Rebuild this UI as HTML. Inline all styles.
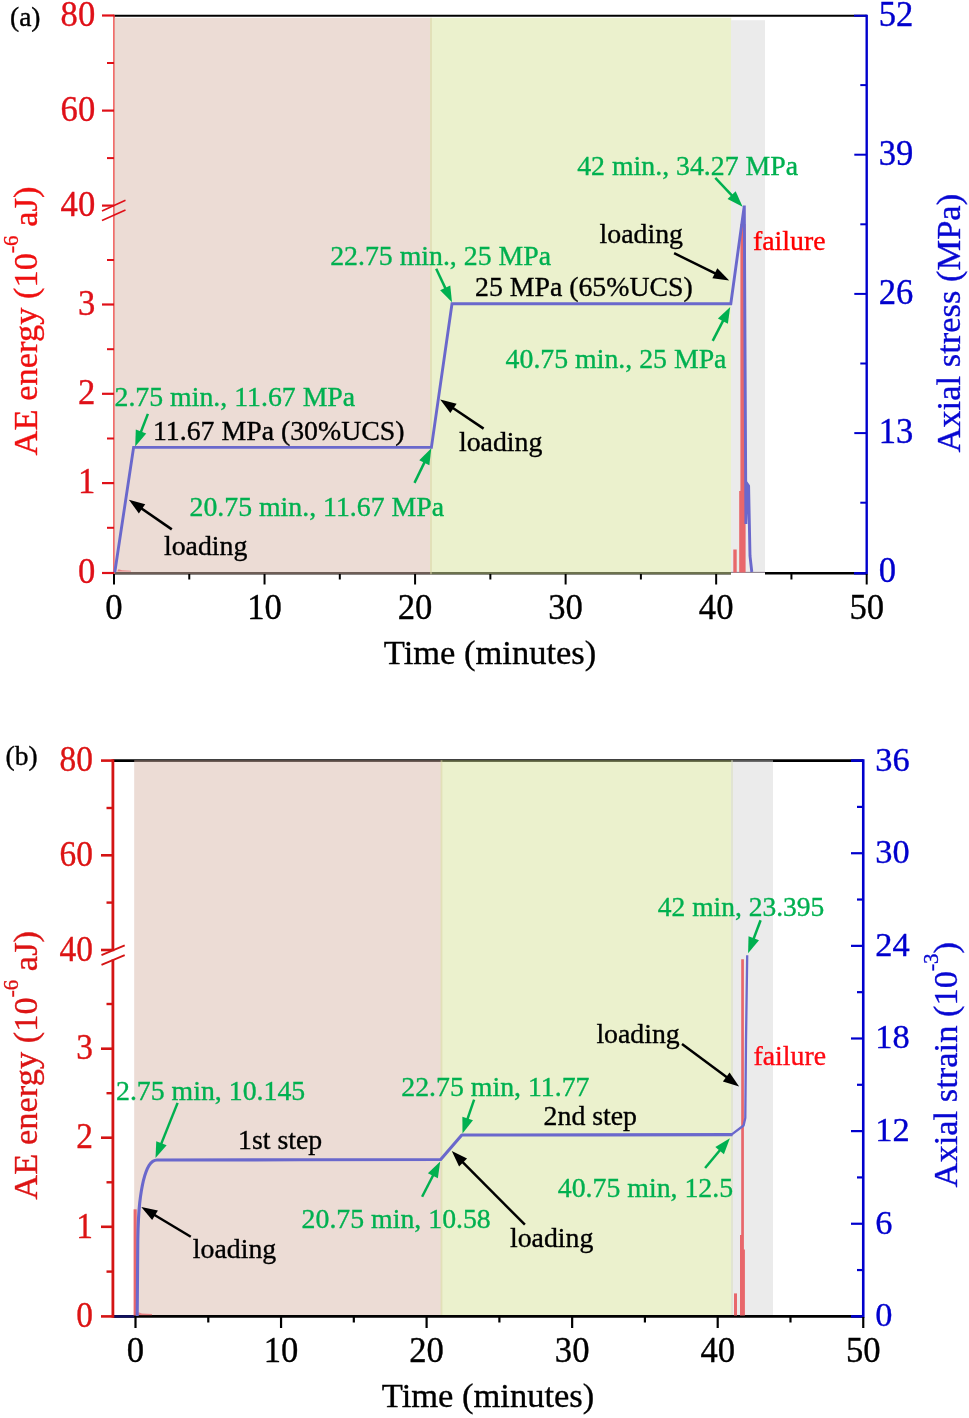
<!DOCTYPE html>
<html lang="en"><head><meta charset="utf-8"><title>AE energy and axial stress/strain versus time</title>
<style>html,body{margin:0;padding:0;background:#fff}svg{display:block}text{font-family:"Liberation Serif","Times New Roman",serif}</style>
</head><body>
<svg width="969" height="1418" viewBox="0 0 969 1418">
<rect x="0.00" y="0.00" width="969.00" height="1418.00" fill="#fff"/>
<g id="panel-a">
<line x1="114.00" y1="15.70" x2="866.70" y2="15.70" stroke="#000" stroke-width="2.0" />
<line x1="114.00" y1="573.30" x2="866.70" y2="573.30" stroke="#000" stroke-width="2.5" />
<line x1="114.00" y1="14.80" x2="114.00" y2="574.50" stroke="#f23a3a" stroke-width="1.5" />
<rect x="114.00" y="17.80" width="318.00" height="556.50" fill="rgba(217,185,171,0.5)"/>
<rect x="430.00" y="17.80" width="301.20" height="556.50" fill="rgba(215,227,155,0.5)"/>
<rect x="731.00" y="20.20" width="34.00" height="552.00" fill="#ebebeb"/>
<rect x="731.00" y="572.90" width="34.00" height="2.20" fill="#fff"/>
<line x1="731.00" y1="572.30" x2="765.00" y2="572.30" stroke="#a89aa8" stroke-width="1.0" />
<line x1="102.00" y1="15.50" x2="114.00" y2="15.50" stroke="#df1018" stroke-width="2.2" />
<text transform="translate(95.20,25.60) scale(1,1.04)" font-size="34.6" fill="#df1018" stroke="#df1018" stroke-width="0.35" text-anchor="end" >80</text>
<line x1="102.00" y1="110.60" x2="114.00" y2="110.60" stroke="#df1018" stroke-width="2.2" />
<text transform="translate(95.20,120.70) scale(1,1.04)" font-size="34.6" fill="#df1018" stroke="#df1018" stroke-width="0.35" text-anchor="end" >60</text>
<line x1="102.00" y1="205.60" x2="114.00" y2="205.60" stroke="#df1018" stroke-width="2.2" />
<text transform="translate(95.20,215.70) scale(1,1.04)" font-size="34.6" fill="#df1018" stroke="#df1018" stroke-width="0.35" text-anchor="end" >40</text>
<line x1="102.00" y1="304.50" x2="114.00" y2="304.50" stroke="#df1018" stroke-width="2.2" />
<text transform="translate(95.20,314.60) scale(1,1.04)" font-size="34.6" fill="#df1018" stroke="#df1018" stroke-width="0.35" text-anchor="end" >3</text>
<line x1="102.00" y1="393.80" x2="114.00" y2="393.80" stroke="#df1018" stroke-width="2.2" />
<text transform="translate(95.20,403.90) scale(1,1.04)" font-size="34.6" fill="#df1018" stroke="#df1018" stroke-width="0.35" text-anchor="end" >2</text>
<line x1="102.00" y1="483.10" x2="114.00" y2="483.10" stroke="#df1018" stroke-width="2.2" />
<text transform="translate(95.20,493.20) scale(1,1.04)" font-size="34.6" fill="#df1018" stroke="#df1018" stroke-width="0.35" text-anchor="end" >1</text>
<line x1="102.00" y1="573.00" x2="114.00" y2="573.00" stroke="#df1018" stroke-width="2.2" />
<text transform="translate(95.20,583.10) scale(1,1.04)" font-size="34.6" fill="#df1018" stroke="#df1018" stroke-width="0.35" text-anchor="end" >0</text>
<line x1="107.00" y1="63.00" x2="114.00" y2="63.00" stroke="#df1018" stroke-width="2.0" />
<line x1="107.00" y1="158.10" x2="114.00" y2="158.10" stroke="#df1018" stroke-width="2.0" />
<line x1="107.00" y1="260.00" x2="114.00" y2="260.00" stroke="#df1018" stroke-width="2.0" />
<line x1="107.00" y1="349.20" x2="114.00" y2="349.20" stroke="#df1018" stroke-width="2.0" />
<line x1="107.00" y1="438.50" x2="114.00" y2="438.50" stroke="#df1018" stroke-width="2.0" />
<line x1="107.00" y1="527.80" x2="114.00" y2="527.80" stroke="#df1018" stroke-width="2.0" />
<line x1="102.00" y1="211.00" x2="125.50" y2="200.20" stroke="#df1018" stroke-width="1.6" />
<line x1="102.00" y1="220.50" x2="125.50" y2="210.00" stroke="#df1018" stroke-width="1.6" />
<line x1="866.70" y1="14.70" x2="866.70" y2="574.50" stroke="#0000cd" stroke-width="2.4" />
<line x1="854.00" y1="15.70" x2="866.70" y2="15.70" stroke="#0000cd" stroke-width="2.0" />
<line x1="854.00" y1="573.30" x2="866.70" y2="573.30" stroke="#0000cd" stroke-width="2.5" />
<text transform="translate(878.70,25.50) scale(1,1.04)" font-size="34.6" fill="#0000cd" stroke="#0000cd" stroke-width="0.35" text-anchor="start" >52</text>
<line x1="854.30" y1="154.70" x2="866.70" y2="154.70" stroke="#0000cd" stroke-width="2.0" />
<text transform="translate(878.70,164.70) scale(1,1.04)" font-size="34.6" fill="#0000cd" stroke="#0000cd" stroke-width="0.35" text-anchor="start" >39</text>
<line x1="854.30" y1="293.90" x2="866.70" y2="293.90" stroke="#0000cd" stroke-width="2.0" />
<text transform="translate(878.70,303.90) scale(1,1.04)" font-size="34.6" fill="#0000cd" stroke="#0000cd" stroke-width="0.35" text-anchor="start" >26</text>
<line x1="854.30" y1="433.10" x2="866.70" y2="433.10" stroke="#0000cd" stroke-width="2.0" />
<text transform="translate(878.70,443.10) scale(1,1.04)" font-size="34.6" fill="#0000cd" stroke="#0000cd" stroke-width="0.35" text-anchor="start" >13</text>
<text transform="translate(878.70,582.30) scale(1,1.04)" font-size="34.6" fill="#0000cd" stroke="#0000cd" stroke-width="0.35" text-anchor="start" >0</text>
<line x1="860.30" y1="85.10" x2="866.70" y2="85.10" stroke="#0000cd" stroke-width="2.0" />
<line x1="860.30" y1="224.30" x2="866.70" y2="224.30" stroke="#0000cd" stroke-width="2.0" />
<line x1="860.30" y1="363.50" x2="866.70" y2="363.50" stroke="#0000cd" stroke-width="2.0" />
<line x1="860.30" y1="502.70" x2="866.70" y2="502.70" stroke="#0000cd" stroke-width="2.0" />
<line x1="114.00" y1="574.00" x2="114.00" y2="584.50" stroke="#000" stroke-width="2.0" />
<text transform="translate(114.00,618.80) scale(1,1.04)" font-size="34.6" fill="#000" stroke="#000" stroke-width="0.35" text-anchor="middle" >0</text>
<line x1="264.54" y1="574.00" x2="264.54" y2="584.50" stroke="#000" stroke-width="2.0" />
<text transform="translate(264.54,618.80) scale(1,1.04)" font-size="34.6" fill="#000" stroke="#000" stroke-width="0.35" text-anchor="middle" >10</text>
<line x1="415.08" y1="574.00" x2="415.08" y2="584.50" stroke="#000" stroke-width="2.0" />
<text transform="translate(415.08,618.80) scale(1,1.04)" font-size="34.6" fill="#000" stroke="#000" stroke-width="0.35" text-anchor="middle" >20</text>
<line x1="565.62" y1="574.00" x2="565.62" y2="584.50" stroke="#000" stroke-width="2.0" />
<text transform="translate(565.62,618.80) scale(1,1.04)" font-size="34.6" fill="#000" stroke="#000" stroke-width="0.35" text-anchor="middle" >30</text>
<line x1="716.16" y1="574.00" x2="716.16" y2="584.50" stroke="#000" stroke-width="2.0" />
<text transform="translate(716.16,618.80) scale(1,1.04)" font-size="34.6" fill="#000" stroke="#000" stroke-width="0.35" text-anchor="middle" >40</text>
<line x1="866.70" y1="574.00" x2="866.70" y2="584.50" stroke="#000" stroke-width="2.0" />
<text transform="translate(866.70,618.80) scale(1,1.04)" font-size="34.6" fill="#000" stroke="#000" stroke-width="0.35" text-anchor="middle" >50</text>
<line x1="189.27" y1="574.00" x2="189.27" y2="579.50" stroke="#000" stroke-width="2.0" />
<line x1="339.81" y1="574.00" x2="339.81" y2="579.50" stroke="#000" stroke-width="2.0" />
<line x1="490.35" y1="574.00" x2="490.35" y2="579.50" stroke="#000" stroke-width="2.0" />
<line x1="640.89" y1="574.00" x2="640.89" y2="579.50" stroke="#000" stroke-width="2.0" />
<line x1="791.43" y1="574.00" x2="791.43" y2="579.50" stroke="#000" stroke-width="2.0" />
<text x="490.00" y="663.90" font-size="34.5" fill="#000" stroke="#000" stroke-width="0.35" text-anchor="middle" >Time (minutes)</text>
<text x="10.00" y="26.00" font-size="27.5" fill="#000" stroke="#000" stroke-width="0.35" text-anchor="start" >(a)</text>
<text transform="translate(37.10,321.00) rotate(-90)" font-size="34.5" fill="#ee1010" stroke="#ee1010" stroke-width="0.35" text-anchor="middle">AE energy (10<tspan font-size="21" dy="-19">-6</tspan><tspan dy="19"> aJ)</tspan></text>
<text transform="translate(960.40,323.20) rotate(-90)" font-size="34.5" fill="#0808d2" stroke="#0808d2" stroke-width="0.35" text-anchor="middle">Axial stress (MPa)</text>
<path d="M733.3,572.5 V549.5 H736.7 V572.5 Z" fill="#e8676b"/>
<path d="M739.2,572.5 V491 H740.4 V224 H745.6 V572.5 Z" fill="#e8676b"/>
<path d="M117,571.6 L118.5,569.3 L122,570.3 L131,570.8 L131,571.6 Z" fill="#e8676b" opacity="0.75"/>
<polyline fill="none" stroke="#6a68cc" stroke-width="2.9" stroke-linejoin="miter" points="114.8,572.3 133.6,447.4 431.4,447.4 452.0,303.8 730.8,303.8 744.3,205.6 745.9,524.0 747.2,484.0 748.6,486.0 750.0,556.0 751.8,572.0"/>
<text x="114.50" y="406.00" font-size="27.8" fill="#00b050" stroke="#00b050" stroke-width="0.35" text-anchor="start" >2.75 min., 11.67 MPa</text>
<text x="153.00" y="440.30" font-size="27.8" fill="#000" stroke="#000" stroke-width="0.35" text-anchor="start" >11.67 MPa (30%UCS)</text>
<text x="189.50" y="516.00" font-size="27.8" fill="#00b050" stroke="#00b050" stroke-width="0.35" text-anchor="start" >20.75 min., 11.67 MPa</text>
<text x="164.00" y="554.80" font-size="27.8" fill="#000" stroke="#000" stroke-width="0.35" text-anchor="start" >loading</text>
<text x="459.00" y="450.50" font-size="27.8" fill="#000" stroke="#000" stroke-width="0.35" text-anchor="start" >loading</text>
<text x="330.20" y="264.50" font-size="27.8" fill="#00b050" stroke="#00b050" stroke-width="0.35" text-anchor="start" >22.75 min., 25 MPa</text>
<text x="475.00" y="295.80" font-size="27.8" fill="#000" stroke="#000" stroke-width="0.35" text-anchor="start" >25 MPa (65%UCS)</text>
<text x="577.20" y="174.80" font-size="27.8" fill="#00b050" stroke="#00b050" stroke-width="0.35" text-anchor="start" >42 min., 34.27 MPa</text>
<text x="599.60" y="243.20" font-size="27.8" fill="#000" stroke="#000" stroke-width="0.35" text-anchor="start" >loading</text>
<text x="753.00" y="250.30" font-size="27.8" fill="#ff0000" stroke="#ff0000" stroke-width="0.35" text-anchor="start" >failure</text>
<text x="505.60" y="367.70" font-size="27.8" fill="#00b050" stroke="#00b050" stroke-width="0.35" text-anchor="start" >40.75 min., 25 MPa</text>
<line x1="147.90" y1="413.90" x2="140.28" y2="433.45" stroke="#00b050" stroke-width="2.5" />
<polygon points="135.20,446.50 135.79,429.56 146.23,433.62" fill="#00b050"/>
<line x1="171.80" y1="529.40" x2="140.41" y2="507.67" stroke="#000" stroke-width="2.5" />
<polygon points="128.90,499.70 145.24,504.20 138.87,513.41" fill="#000"/>
<line x1="414.50" y1="482.90" x2="425.19" y2="460.89" stroke="#00b050" stroke-width="2.5" />
<polygon points="431.30,448.30 429.35,465.14 419.27,460.25" fill="#00b050"/>
<line x1="483.60" y1="428.60" x2="451.82" y2="407.22" stroke="#000" stroke-width="2.5" />
<polygon points="440.20,399.40 456.60,403.69 450.35,412.98" fill="#000"/>
<line x1="436.20" y1="268.70" x2="446.04" y2="289.63" stroke="#00b050" stroke-width="2.5" />
<polygon points="452.00,302.30 440.12,290.20 450.26,285.44" fill="#00b050"/>
<line x1="674.10" y1="253.20" x2="716.65" y2="274.20" stroke="#000" stroke-width="2.5" />
<polygon points="729.20,280.40 712.37,278.34 717.33,268.30" fill="#000"/>
<line x1="712.70" y1="340.90" x2="723.79" y2="319.35" stroke="#00b050" stroke-width="2.5" />
<polygon points="730.20,306.90 727.86,323.69 717.90,318.56" fill="#00b050"/>
<line x1="715.30" y1="177.90" x2="732.99" y2="196.62" stroke="#00b050" stroke-width="2.5" />
<polygon points="742.60,206.80 727.54,199.01 735.68,191.32" fill="#00b050"/>
</g>
<g id="panel-b">
<line x1="112.90" y1="760.60" x2="863.25" y2="760.60" stroke="#000" stroke-width="2.6" />
<rect x="134.20" y="760.20" width="308.20" height="556.00" fill="rgba(217,185,171,0.5)"/>
<rect x="440.60" y="760.20" width="292.40" height="556.00" fill="rgba(215,227,155,0.5)"/>
<rect x="731.00" y="760.20" width="42.00" height="556.00" fill="rgba(215,215,215,0.5)"/>
<line x1="112.90" y1="1316.40" x2="863.25" y2="1316.40" stroke="#000" stroke-width="2.6" />
<line x1="114.00" y1="1316.40" x2="134.00" y2="1316.40" stroke="#101060" stroke-width="2.6" />
<line x1="112.90" y1="759.30" x2="112.90" y2="1317.70" stroke="#d41414" stroke-width="2.8" />
<line x1="101.00" y1="760.60" x2="112.90" y2="760.60" stroke="#d41414" stroke-width="2.6" />
<text transform="translate(93.00,771.30) scale(1,1.06)" font-size="33.4" fill="#dc1414" stroke="#dc1414" stroke-width="0.35" text-anchor="end" >80</text>
<line x1="101.00" y1="855.30" x2="112.90" y2="855.30" stroke="#d41414" stroke-width="2.6" />
<text transform="translate(93.00,866.00) scale(1,1.06)" font-size="33.4" fill="#dc1414" stroke="#dc1414" stroke-width="0.35" text-anchor="end" >60</text>
<line x1="101.00" y1="950.00" x2="112.90" y2="950.00" stroke="#d41414" stroke-width="2.6" />
<text transform="translate(93.00,960.70) scale(1,1.06)" font-size="33.4" fill="#dc1414" stroke="#dc1414" stroke-width="0.35" text-anchor="end" >40</text>
<line x1="101.00" y1="1048.70" x2="112.90" y2="1048.70" stroke="#d41414" stroke-width="2.6" />
<text transform="translate(93.00,1059.40) scale(1,1.06)" font-size="33.4" fill="#dc1414" stroke="#dc1414" stroke-width="0.35" text-anchor="end" >3</text>
<line x1="101.00" y1="1137.70" x2="112.90" y2="1137.70" stroke="#d41414" stroke-width="2.6" />
<text transform="translate(93.00,1148.40) scale(1,1.06)" font-size="33.4" fill="#dc1414" stroke="#dc1414" stroke-width="0.35" text-anchor="end" >2</text>
<line x1="101.00" y1="1226.80" x2="112.90" y2="1226.80" stroke="#d41414" stroke-width="2.6" />
<text transform="translate(93.00,1237.50) scale(1,1.06)" font-size="33.4" fill="#dc1414" stroke="#dc1414" stroke-width="0.35" text-anchor="end" >1</text>
<line x1="101.00" y1="1316.40" x2="112.90" y2="1316.40" stroke="#d41414" stroke-width="2.6" />
<text transform="translate(93.00,1327.10) scale(1,1.06)" font-size="33.4" fill="#dc1414" stroke="#dc1414" stroke-width="0.35" text-anchor="end" >0</text>
<line x1="106.50" y1="808.00" x2="112.90" y2="808.00" stroke="#d41414" stroke-width="2.4" />
<line x1="106.50" y1="902.60" x2="112.90" y2="902.60" stroke="#d41414" stroke-width="2.4" />
<line x1="106.50" y1="1004.00" x2="112.90" y2="1004.00" stroke="#d41414" stroke-width="2.4" />
<line x1="106.50" y1="1093.20" x2="112.90" y2="1093.20" stroke="#d41414" stroke-width="2.4" />
<line x1="106.50" y1="1182.30" x2="112.90" y2="1182.30" stroke="#d41414" stroke-width="2.4" />
<line x1="106.50" y1="1271.60" x2="112.90" y2="1271.60" stroke="#d41414" stroke-width="2.4" />
<rect x="110.50" y="951.20" width="5.00" height="8.30" fill="#fff"/>
<line x1="101.50" y1="955.10" x2="124.70" y2="945.30" stroke="#d41414" stroke-width="1.8" />
<line x1="101.50" y1="964.90" x2="124.70" y2="955.10" stroke="#d41414" stroke-width="1.8" />
<line x1="863.25" y1="759.30" x2="863.25" y2="1317.70" stroke="#0000cd" stroke-width="2.6" />
<line x1="851.00" y1="760.60" x2="863.25" y2="760.60" stroke="#0000cd" stroke-width="2.6" />
<line x1="851.00" y1="1316.40" x2="863.25" y2="1316.40" stroke="#0000cd" stroke-width="2.6" />
<text transform="translate(875.30,770.50) scale(1,1.01)" font-size="34.4" fill="#0000cd" stroke="#0000cd" stroke-width="0.35" text-anchor="start" >36</text>
<line x1="851.00" y1="853.23" x2="863.25" y2="853.23" stroke="#0000cd" stroke-width="2.2" />
<text transform="translate(875.30,863.13) scale(1,1.01)" font-size="34.4" fill="#0000cd" stroke="#0000cd" stroke-width="0.35" text-anchor="start" >30</text>
<line x1="851.00" y1="945.86" x2="863.25" y2="945.86" stroke="#0000cd" stroke-width="2.2" />
<text transform="translate(875.30,955.76) scale(1,1.01)" font-size="34.4" fill="#0000cd" stroke="#0000cd" stroke-width="0.35" text-anchor="start" >24</text>
<line x1="851.00" y1="1038.49" x2="863.25" y2="1038.49" stroke="#0000cd" stroke-width="2.2" />
<text transform="translate(875.30,1048.39) scale(1,1.01)" font-size="34.4" fill="#0000cd" stroke="#0000cd" stroke-width="0.35" text-anchor="start" >18</text>
<line x1="851.00" y1="1131.12" x2="863.25" y2="1131.12" stroke="#0000cd" stroke-width="2.2" />
<text transform="translate(875.30,1141.02) scale(1,1.01)" font-size="34.4" fill="#0000cd" stroke="#0000cd" stroke-width="0.35" text-anchor="start" >12</text>
<line x1="851.00" y1="1223.75" x2="863.25" y2="1223.75" stroke="#0000cd" stroke-width="2.2" />
<text transform="translate(875.30,1233.65) scale(1,1.01)" font-size="34.4" fill="#0000cd" stroke="#0000cd" stroke-width="0.35" text-anchor="start" >6</text>
<text transform="translate(875.30,1326.28) scale(1,1.01)" font-size="34.4" fill="#0000cd" stroke="#0000cd" stroke-width="0.35" text-anchor="start" >0</text>
<line x1="857.00" y1="806.90" x2="863.25" y2="806.90" stroke="#0000cd" stroke-width="2.2" />
<line x1="857.00" y1="899.53" x2="863.25" y2="899.53" stroke="#0000cd" stroke-width="2.2" />
<line x1="857.00" y1="992.16" x2="863.25" y2="992.16" stroke="#0000cd" stroke-width="2.2" />
<line x1="857.00" y1="1084.79" x2="863.25" y2="1084.79" stroke="#0000cd" stroke-width="2.2" />
<line x1="857.00" y1="1177.42" x2="863.25" y2="1177.42" stroke="#0000cd" stroke-width="2.2" />
<line x1="857.00" y1="1270.05" x2="863.25" y2="1270.05" stroke="#0000cd" stroke-width="2.2" />
<line x1="135.50" y1="1317.00" x2="135.50" y2="1328.00" stroke="#000" stroke-width="2.2" />
<text transform="translate(135.50,1361.70) scale(1,1.04)" font-size="34.6" fill="#000" stroke="#000" stroke-width="0.35" text-anchor="middle" >0</text>
<line x1="281.05" y1="1317.00" x2="281.05" y2="1328.00" stroke="#000" stroke-width="2.2" />
<text transform="translate(281.05,1361.70) scale(1,1.04)" font-size="34.6" fill="#000" stroke="#000" stroke-width="0.35" text-anchor="middle" >10</text>
<line x1="426.60" y1="1317.00" x2="426.60" y2="1328.00" stroke="#000" stroke-width="2.2" />
<text transform="translate(426.60,1361.70) scale(1,1.04)" font-size="34.6" fill="#000" stroke="#000" stroke-width="0.35" text-anchor="middle" >20</text>
<line x1="572.15" y1="1317.00" x2="572.15" y2="1328.00" stroke="#000" stroke-width="2.2" />
<text transform="translate(572.15,1361.70) scale(1,1.04)" font-size="34.6" fill="#000" stroke="#000" stroke-width="0.35" text-anchor="middle" >30</text>
<line x1="717.70" y1="1317.00" x2="717.70" y2="1328.00" stroke="#000" stroke-width="2.2" />
<text transform="translate(717.70,1361.70) scale(1,1.04)" font-size="34.6" fill="#000" stroke="#000" stroke-width="0.35" text-anchor="middle" >40</text>
<line x1="863.25" y1="1317.00" x2="863.25" y2="1328.00" stroke="#000" stroke-width="2.2" />
<text transform="translate(863.25,1361.70) scale(1,1.04)" font-size="34.6" fill="#000" stroke="#000" stroke-width="0.35" text-anchor="middle" >50</text>
<line x1="208.28" y1="1317.00" x2="208.28" y2="1322.50" stroke="#000" stroke-width="2.2" />
<line x1="353.82" y1="1317.00" x2="353.82" y2="1322.50" stroke="#000" stroke-width="2.2" />
<line x1="499.38" y1="1317.00" x2="499.38" y2="1322.50" stroke="#000" stroke-width="2.2" />
<line x1="644.92" y1="1317.00" x2="644.92" y2="1322.50" stroke="#000" stroke-width="2.2" />
<line x1="790.48" y1="1317.00" x2="790.48" y2="1322.50" stroke="#000" stroke-width="2.2" />
<text x="488.00" y="1406.80" font-size="34.5" fill="#000" stroke="#000" stroke-width="0.35" text-anchor="middle" >Time (minutes)</text>
<text x="5.50" y="765.20" font-size="27.5" fill="#000" stroke="#000" stroke-width="0.35" text-anchor="start" >(b)</text>
<text transform="translate(37.10,1065.30) rotate(-90)" font-size="34.5" fill="#dc1414" stroke="#dc1414" stroke-width="0.35" text-anchor="middle">AE energy (10<tspan font-size="21" dy="-19">-6</tspan><tspan dy="19"> aJ)</tspan></text>
<text transform="translate(956.50,1064.70) rotate(-90)" font-size="34.5" fill="#0808d2" stroke="#0808d2" stroke-width="0.35" text-anchor="middle">Axial strain (10<tspan font-size="21" dy="-19">-3</tspan><tspan dy="19">)</tspan></text>
<path d="M133.6,1315.5 V1209.3 H136.7 V1315.5 Z" fill="#e8676b"/>
<path d="M137.5,1315.2 L138.5,1312.2 L142,1313.4 L152,1314 L152,1315.2 Z" fill="#e8676b" opacity="0.75"/>
<path d="M734.0,1315.5 V1293.4 H737.0 V1315.5 Z" fill="#e8676b"/>
<path d="M740.0,1315.5 V1235 H741.2 V959.3 H743.9 V1249.5 H744.9 V1315.5 Z" fill="#e8676b"/>
<path fill="none" stroke="#6a68cc" stroke-width="3.1" stroke-linejoin="round" d="M137.2,1316 L137.8,1240 C138.1,1222 138.7,1212 139.7,1203 C141.5,1187 144.5,1173 149,1165.5 C151.5,1161.5 154,1160 157,1160 L300,1159.8 L440.7,1159.5 L461.8,1135.0 L600,1134.9 L732.5,1134.6"/>
<path fill="none" stroke="#6a68cc" stroke-width="2.3" stroke-linejoin="round" d="M731.5,1134.7 L743.6,1125.5 L745.3,1118 L746.0,1040 L747.2,955.3"/>
<text x="116.00" y="1100.30" font-size="27.8" fill="#00b050" stroke="#00b050" stroke-width="0.35" text-anchor="start" >2.75 min, 10.145</text>
<text x="238.00" y="1148.50" font-size="27.8" fill="#000" stroke="#000" stroke-width="0.35" text-anchor="start" >1st step</text>
<text x="301.60" y="1228.00" font-size="27.8" fill="#00b050" stroke="#00b050" stroke-width="0.35" text-anchor="start" >20.75 min, 10.58</text>
<text x="192.80" y="1258.00" font-size="27.8" fill="#000" stroke="#000" stroke-width="0.35" text-anchor="start" >loading</text>
<text x="401.30" y="1096.30" font-size="27.8" fill="#00b050" stroke="#00b050" stroke-width="0.35" text-anchor="start" >22.75 min, 11.77</text>
<text x="543.60" y="1125.40" font-size="27.8" fill="#000" stroke="#000" stroke-width="0.35" text-anchor="start" >2nd step</text>
<text x="510.00" y="1247.10" font-size="27.8" fill="#000" stroke="#000" stroke-width="0.35" text-anchor="start" >loading</text>
<text x="557.80" y="1196.90" font-size="27.8" fill="#00b050" stroke="#00b050" stroke-width="0.35" text-anchor="start" >40.75 min, 12.5</text>
<text x="657.80" y="916.10" font-size="27.5" fill="#00b050" stroke="#00b050" stroke-width="0.35" text-anchor="start" >42 min, 23.395</text>
<text x="596.40" y="1042.60" font-size="27.8" fill="#000" stroke="#000" stroke-width="0.35" text-anchor="start" >loading</text>
<text x="753.50" y="1065.40" font-size="27.8" fill="#ff0a14" stroke="#ff0a14" stroke-width="0.35" text-anchor="start" >failure</text>
<line x1="177.60" y1="1102.90" x2="160.70" y2="1145.10" stroke="#00b050" stroke-width="2.5" />
<polygon points="155.50,1158.10 156.25,1141.16 166.65,1145.33" fill="#00b050"/>
<line x1="190.80" y1="1236.70" x2="153.30" y2="1214.20" stroke="#000" stroke-width="2.5" />
<polygon points="141.30,1207.00 157.90,1210.43 152.14,1220.03" fill="#000"/>
<line x1="422.10" y1="1196.70" x2="433.80" y2="1173.95" stroke="#00b050" stroke-width="2.5" />
<polygon points="440.20,1161.50 437.86,1178.29 427.90,1173.17" fill="#00b050"/>
<line x1="524.90" y1="1224.70" x2="461.67" y2="1161.03" stroke="#000" stroke-width="2.5" />
<polygon points="451.80,1151.10 467.05,1158.51 459.10,1166.40" fill="#000"/>
<line x1="474.10" y1="1099.60" x2="467.02" y2="1120.35" stroke="#00b050" stroke-width="2.5" />
<polygon points="462.50,1133.60 462.37,1116.65 472.97,1120.27" fill="#00b050"/>
<line x1="682.00" y1="1044.10" x2="727.85" y2="1078.07" stroke="#000" stroke-width="2.5" />
<polygon points="739.10,1086.40 722.91,1081.38 729.58,1072.38" fill="#000"/>
<line x1="705.10" y1="1168.00" x2="720.93" y2="1149.05" stroke="#00b050" stroke-width="2.5" />
<polygon points="729.90,1138.30 723.94,1154.17 715.35,1146.99" fill="#00b050"/>
<line x1="760.60" y1="920.30" x2="753.06" y2="940.21" stroke="#00b050" stroke-width="2.5" />
<polygon points="748.10,953.30 748.53,936.35 759.00,940.32" fill="#00b050"/>
</g>
</svg>
</body></html>
